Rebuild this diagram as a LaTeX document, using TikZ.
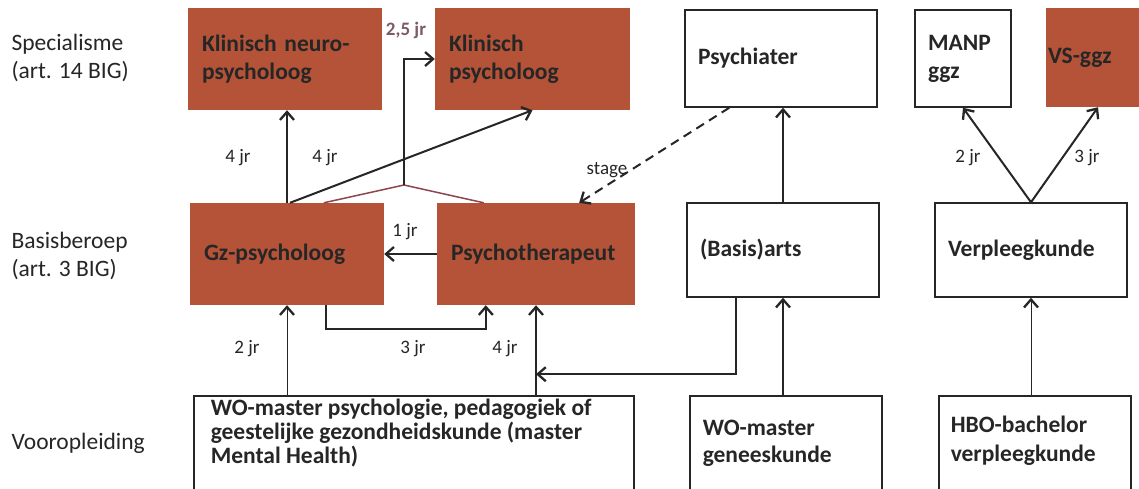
\documentclass[tikz,border=0pt]{standalone}
\usepackage{fontspec}
\setmainfont{Carlito}
\usetikzlibrary{arrows.meta,calc}
\definecolor{obrown}{RGB}{180,83,56}
\definecolor{maroonl}{RGB}{140,70,80}
\definecolor{lblc}{RGB}{125,90,105}
\tikzset{
  obox/.style={draw=none, fill=obrown, rectangle, inner xsep=14pt, align=left, font=\bfseries\fontsize{23.5}{28}\selectfont, text=black!85},
  wbox/.style={draw=black!85, line width=1.5pt, fill=white, rectangle, inner xsep=13pt, align=left, font=\bfseries\fontsize{23.5}{28}\selectfont, text=black!85},
  side/.style={anchor=west, align=left, font=\fontsize{23.5}{28}\selectfont, text=black!85},
  lbl/.style={font=\fontsize{19}{22}\selectfont, text=black!85},
  arr/.style={draw=black!85, line width=2pt, -{Straight Barb[length=8pt,width=14pt,line width=2.3pt]}},
  tarr/.style={draw=black!85, line width=1pt, -{Straight Barb[length=8pt,width=14pt,line width=2.3pt]}},
}
\begin{document}
\begin{tikzpicture}[x=1pt,y=-1pt]
\useasboundingbox (0,0) rectangle (1139,488);
\fill[white] (0,0) rectangle (1139,488);
\begin{scope}
\clip (0,0) rectangle (1139,488);
% side labels
\node[side] (s1) at (8,58) {Specialisme\\(art. 14 BIG)};
\node[side] (s2) at (8,256) {Basisberoep\\(art. 3 BIG)};
\node[side] (s3) at (8,443) {Vooropleiding};
% top row
\node[obox, minimum width=194, minimum height=102, text width=166] (kn) at (285,59) {Klinisch neuro-\\psycholoog};
\node[obox, minimum width=195, minimum height=102, text width=167] (kp) at (532.5,59) {Klinisch\\psycholoog};
\node[wbox, minimum width=192, minimum height=97, text width=166] (ps) at (781,58.5) {Psychiater};
\node[wbox, minimum width=94, minimum height=97, text width=70] (manp) at (963,58.5) {MANP\\ggz};
\node[obox, minimum width=104, minimum height=99, inner xsep=0pt, text width=104] (vs) at (1098,57.5) {\hspace*{2pt}VS-ggz};
% middle row
\node[obox, minimum width=194, minimum height=102, text width=166] (gz) at (287,254) {Gz-psycholoog};
\node[obox, minimum width=196, minimum height=102, text width=170] (pt) at (536,254) {Psychotherapeut};
\node[wbox, minimum width=192, minimum height=94, text width=166] (ba) at (783,250) {(Basis)arts};
\node[wbox, minimum width=192, minimum height=94, text width=166] (vp) at (1031,250) {Verpleegkunde};
% bottom row
\node[wbox, anchor=north west, inner xsep=17pt, inner ysep=3pt] (wop) at (193,395) {\parbox[t][120pt][t]{406pt}{\raggedright\baselineskip=24pt WO-master psychologie, pedagogiek of\\geestelijke gezondheidskunde (master\\Mental Health)}};
\node[wbox, anchor=north west, inner xsep=13pt, inner ysep=24pt] (wog) at (689,395) {\parbox[t][100pt][t]{166pt}{\raggedright\baselineskip=27pt WO-master\\geneeskunde}};
\node[wbox, anchor=north west, inner xsep=12pt, inner ysep=20pt] (hbo) at (938,395) {\parbox[t][100pt][t]{168pt}{\raggedright\baselineskip=29pt HBO-bachelor\\verpleegkunde}};
\end{scope}
% coordinates
\coordinate (apex) at (404,185);
\coordinate (gzl) at ($(gz.north west)+(134,0)$);
\coordinate (ptl) at ($(pt.north west)+(47,0)$);
\coordinate (gzb) at ($(gz.south west)+(136,0)$);
\coordinate (ptb) at ($(pt.south west)+(49,0)$);
\coordinate (bab) at ($(ba.south west)+(50,0)$);
\coordinate (dash1) at ($(ps.south west)+(45,0)$);
\coordinate (dash2) at ($(pt.north east)+(-56,0)$);
% connectors
\draw[arr] (gz.north) -- (gz.north |- kn.south);
\draw[arr] ($(gz.north)+(3,0)$) -- (kp.south);
\draw[maroonl, line width=1.5pt] (gzl) -- (apex) -- (ptl);
\draw[tarr, line width=1.5pt] (apex) |- (kp.west);
\draw[arr] (pt.west) -- (gz.east);
\draw[tarr, line width=1.5pt] (gzb) -- ++(0,24) -| (ptb);
\draw[tarr] (wop.north -| gz.south) -- (gz.south);
\draw[arr] (wop.north -| pt.south) -- (pt.south);
\draw[arr] (bab) |- ($(pt.south)+(0,69)$);
\draw[arr, dashed, dash pattern=on 9pt off 6pt] (dash1) -- (dash2);
\draw[arr] (wog.north -| ba.south) -- (ba.south);
\draw[arr] (ba.north) -- (ba.north |- ps.south);
\draw[arr] (vp.north) -- (manp.south);
\draw[arr] (vp.north) -- (vs.south);
\draw[tarr] (hbo.north -| vp.south) -- (vp.south);
% labels
\node[lbl] (l1) at (238,158) {4 jr};
\node[lbl] (l2) at (325,158) {4 jr};
\node[lbl, text=lblc] (l3) at (406,30) {\bfseries 2,5 jr};
\node[lbl] (l4) at (607,170) {stage};
\node[lbl] (l5) at (405,232) {1 jr};
\node[lbl] (l6) at (247,349) {2 jr};
\node[lbl] (l7) at (413,349) {3 jr};
\node[lbl] (l8) at (505,349) {4 jr};
\node[lbl] (l9) at (968,158) {2 jr};
\node[lbl] (l10) at (1087,158) {3 jr};
\end{tikzpicture}
\end{document}
